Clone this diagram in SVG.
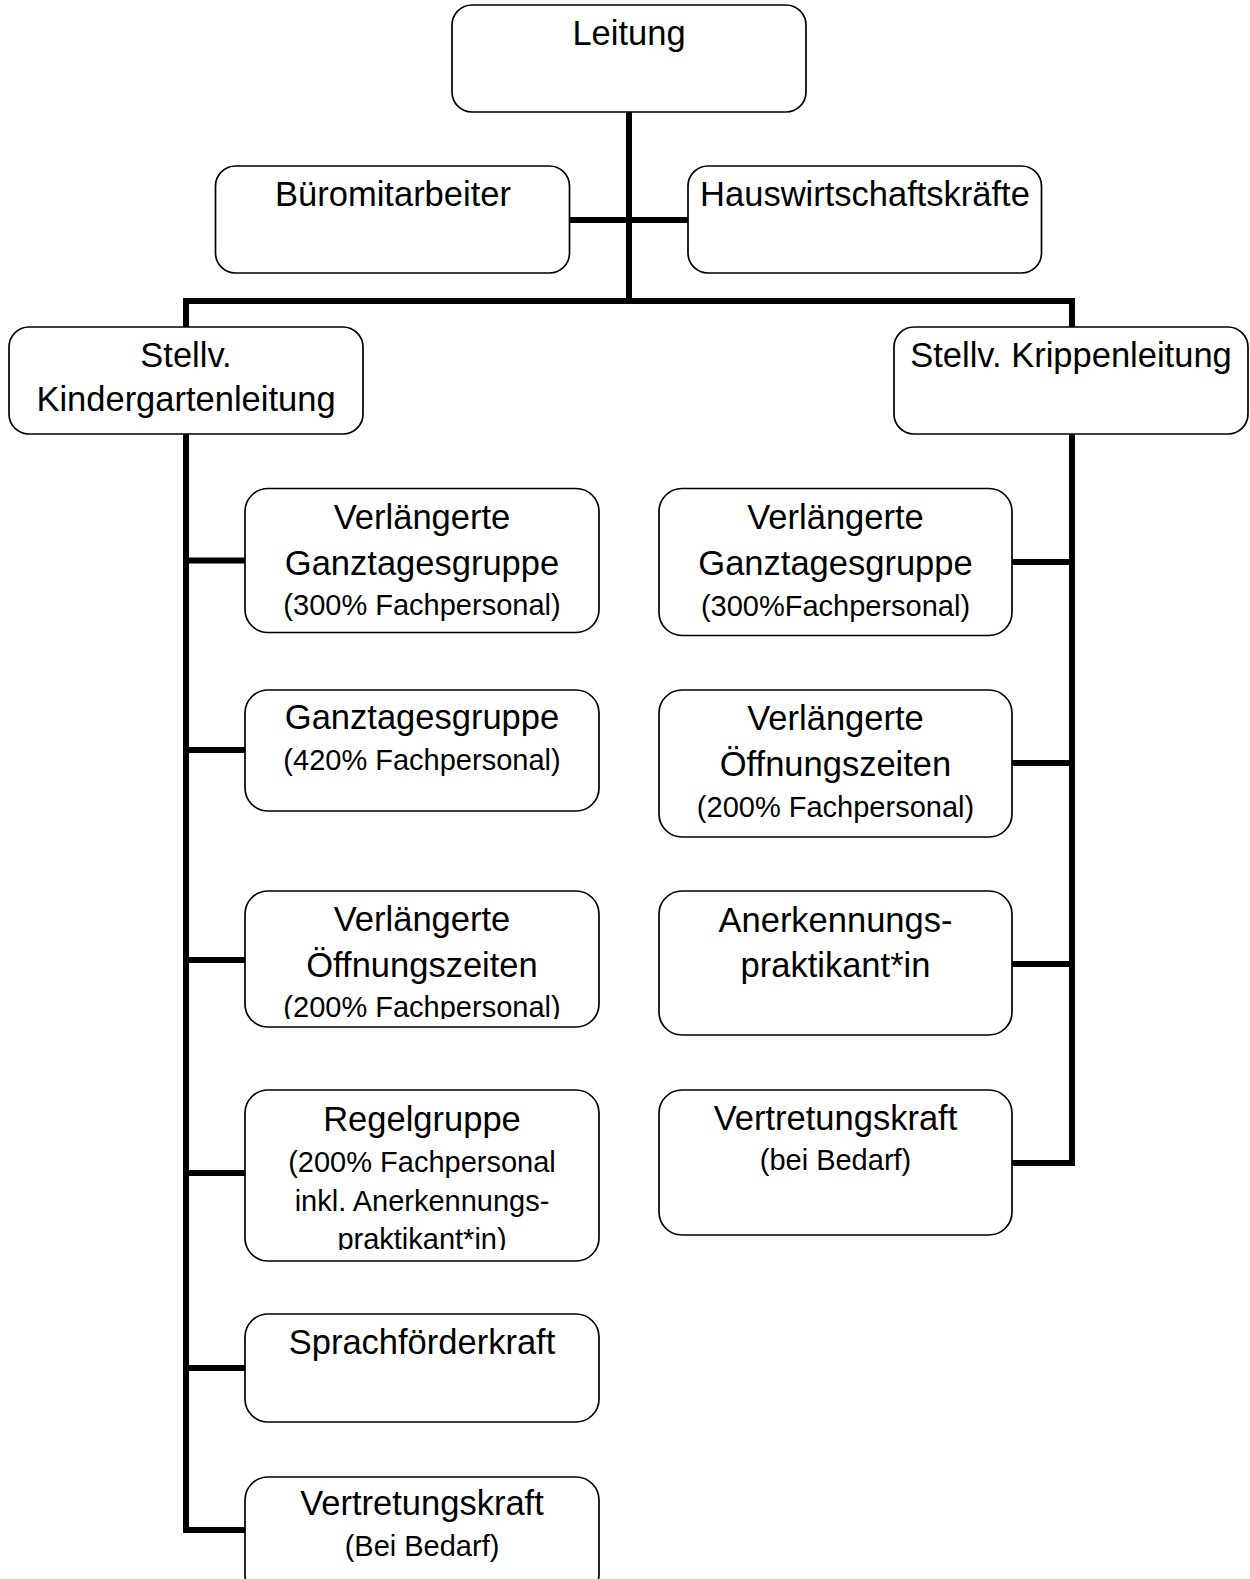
<svg xmlns="http://www.w3.org/2000/svg" width="1250" height="1579" viewBox="0 0 1250 1579">
<style>
.box{fill:#fff;stroke:#000;stroke-width:1.7}
.t{font-family:"Liberation Sans",Arial,sans-serif;font-size:34.5px;fill:#000;text-anchor:middle}
.s{font-family:"Liberation Sans",Arial,sans-serif;font-size:29px;fill:#000;text-anchor:middle}
.c{fill:none;stroke:#000;stroke-width:6;stroke-linecap:butt;stroke-linejoin:miter}
</style>
<defs>
<clipPath id="clip3"><rect x="245" y="891" width="354" height="128"/></clipPath>
<clipPath id="clip4"><rect x="245" y="1090" width="354" height="160"/></clipPath>
</defs>
<rect width="1250" height="1579" fill="#fff"/>
<g id="connectors">
<path class="c" d="M629 112 V301"/>
<path class="c" d="M570 220 H688"/>
<path class="c" d="M186 434 V301 H1072 V434"/>
<path class="c" d="M186 434 V1530 H245"/>
<path class="c" d="M186 560.5 H245"/>
<path class="c" d="M186 750 H245"/>
<path class="c" d="M186 960 H245"/>
<path class="c" d="M186 1173 H245"/>
<path class="c" d="M186 1368 H245"/>
<path class="c" d="M1072 434 V1163 H1012"/>
<path class="c" d="M1072 562 H1012"/>
<path class="c" d="M1072 763 H1012"/>
<path class="c" d="M1072 964 H1012"/>
</g>
<g id="leitung">
<rect class="box" x="452" y="5" width="354" height="107" rx="20"/>
<text class="t" x="629" y="44.5">Leitung</text>
</g>
<g id="bueromitarbeiter">
<rect class="box" x="215.5" y="166" width="354" height="107" rx="20"/>
<text class="t" x="393" y="205.5">Büromitarbeiter</text>
</g>
<g id="hauswirtschaftskraefte">
<rect class="box" x="688" y="166" width="353.5" height="107" rx="20"/>
<text class="t" x="865" y="205.5">Hauswirtschaftskräfte</text>
</g>
<g id="stellv-kindergartenleitung">
<rect class="box" x="9" y="327" width="354" height="107" rx="20"/>
<text class="t" x="186" y="366.5">Stellv.</text>
<text class="t" x="186" y="411">Kindergartenleitung</text>
</g>
<g id="stellv-krippenleitung">
<rect class="box" x="894" y="327" width="354" height="107" rx="20"/>
<text class="t" x="1071" y="366.5">Stellv. Krippenleitung</text>
</g>
<g id="kg-verl-ganztagesgruppe">
<rect class="box" x="245" y="488.5" width="354" height="144" rx="23"/>
<text class="t" x="422" y="529">Verlängerte</text>
<text class="t" x="422" y="575">Ganztagesgruppe</text>
<text class="s" x="422" y="615">(300% Fachpersonal)</text>
</g>
<g id="kg-ganztagesgruppe">
<rect class="box" x="245" y="690" width="354" height="121" rx="23"/>
<text class="t" x="422" y="729">Ganztagesgruppe</text>
<text class="s" x="422" y="769.5">(420% Fachpersonal)</text>
</g>
<g id="kg-verl-oeffnungszeiten">
<rect class="box" x="245" y="891" width="354" height="136" rx="23"/>
<text class="t" x="422" y="930.5">Verlängerte</text>
<text class="t" x="422" y="976.5">Öffnungszeiten</text>
<text class="s" x="422" y="1017" clip-path="url(#clip3)">(200% Fachpersonal)</text>
</g>
<g id="kg-regelgruppe">
<rect class="box" x="245" y="1090" width="354" height="171" rx="23"/>
<text class="t" x="422" y="1131">Regelgruppe</text>
<text class="s" x="422" y="1171.5">(200% Fachpersonal</text>
<text class="s" x="422" y="1211">inkl. Anerkennungs-</text>
<text class="s" x="422" y="1249" clip-path="url(#clip4)">praktikant*in)</text>
</g>
<g id="kg-sprachfoerderkraft">
<rect class="box" x="245" y="1314" width="354" height="108" rx="23"/>
<text class="t" x="422" y="1354">Sprachförderkraft</text>
</g>
<g id="kg-vertretungskraft">
<rect class="box" x="245" y="1477" width="354" height="120" rx="23"/>
<text class="t" x="422" y="1515">Vertretungskraft</text>
<text class="s" x="422" y="1556">(Bei Bedarf)</text>
</g>
<g id="kr-verl-ganztagesgruppe">
<rect class="box" x="659" y="488.5" width="353" height="147" rx="23"/>
<text class="t" x="835.5" y="529">Verlängerte</text>
<text class="t" x="835.5" y="575">Ganztagesgruppe</text>
<text class="s" x="835.5" y="615.5">(300%Fachpersonal)</text>
</g>
<g id="kr-verl-oeffnungszeiten">
<rect class="box" x="659" y="690" width="353" height="147" rx="23"/>
<text class="t" x="835.5" y="730">Verlängerte</text>
<text class="t" x="835.5" y="775.5">Öffnungszeiten</text>
<text class="s" x="835.5" y="817">(200% Fachpersonal)</text>
</g>
<g id="kr-anerkennungspraktikant">
<rect class="box" x="659" y="891" width="353" height="144" rx="23"/>
<text class="t" x="835.5" y="931.5">Anerkennungs-</text>
<text class="t" x="835.5" y="977">praktikant*in</text>
</g>
<g id="kr-vertretungskraft">
<rect class="box" x="659" y="1090" width="353" height="145" rx="23"/>
<text class="t" x="835.5" y="1130">Vertretungskraft</text>
<text class="s" x="835.5" y="1170">(bei Bedarf)</text>
</g>
</svg>
